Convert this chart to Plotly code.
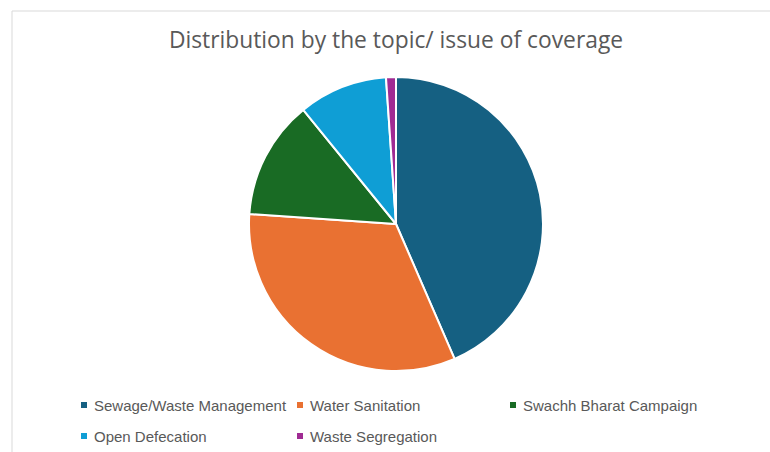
import plotly.graph_objects as go

labels = ["Sewage/Waste Management", "Water Sanitation", "Swachh Bharat Campaign",
          "Open Defecation", "Waste Segregation"]
values = [40, 30, 12, 9, 1]
colors = ["#156082", "#E97132", "#196B24", "#0F9ED5", "#A02B93"]

W, H = 770, 452
cx, cy, r = 396, 224, 147

fig = go.Figure(go.Pie(
    labels=labels, values=values, sort=False, direction="clockwise", rotation=0,
    marker=dict(colors=colors, line=dict(color="white", width=2)),
    textinfo="none", hoverinfo="label+value+percent", showlegend=False,
    domain=dict(x=[(cx - r) / W, (cx + r) / W], y=[(H - cy - r) / H, (H - cy + r) / H]),
))

# chart-area border
fig.add_shape(type="rect", xref="paper", yref="paper",
              x0=12 / W, x1=1.01, y0=-0.01, y1=(H - 11) / H,
              line=dict(color="#D9D9D9", width=1), fillcolor="rgba(0,0,0,0)")

# legend (manual, Office style)
legend_pos = [(84, 405), (300, 405), (513, 405), (84, 436), (300, 436)]
for (lx, ly), lab, col in zip(legend_pos, labels, colors):
    fig.add_shape(type="rect", xref="paper", yref="paper",
                  x0=(lx - 3) / W, x1=(lx + 3) / W,
                  y0=(H - ly - 3) / H, y1=(H - ly + 3) / H,
                  line=dict(width=0), fillcolor=col)
    fig.add_annotation(x=(lx + 8) / W, y=(H - ly) / H, xref="paper", yref="paper",
                       text=lab, showarrow=False, xanchor="left", yanchor="middle",
                       font=dict(family="Liberation Sans", size=15, color="#595959"))

fig.update_layout(
    width=W, height=H, margin=dict(l=0, r=0, t=0, b=0),
    paper_bgcolor="white", plot_bgcolor="white",
    title=dict(text="Distribution by the topic/ issue of coverage",
               x=396 / W, xanchor="center", y=(H - 40) / H, yanchor="middle",
               font=dict(family="Open Sans", size=22.8, color="#595959")),
)

fig.write_html("out.html")
